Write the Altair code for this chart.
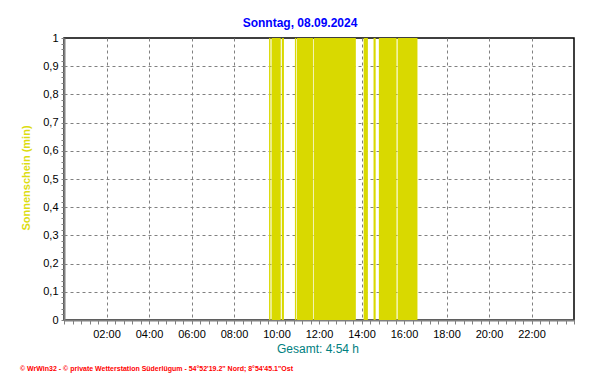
import altair as alt
import pandas as pd

# Sunshine intervals (minutes after midnight), value = 1 min sunshine per minute
start_min = [579, 586, 615, 652, 657, 705, 846, 874, 889, 942]
end_min = [583, 612, 621, 655, 703, 824, 858, 880, 939, 998]
sun = [1, 1, 1, 1, 1, 1, 1, 1, 1, 1]

title_text = "Sonntag, 08.09.2024"
y_title = "Sonnenschein  (min)"
total_text = "Gesamt: 4:54 h"
footer_text = "\u00a9 WrWin32  -  \u00a9 private Wetterstation S\u00fcderl\u00fcgum  -  54\u00b052'19.2\" Nord; 8\u00b054'45.1\"Ost"

df = pd.DataFrame({"start": start_min, "end": end_min, "sun": sun})

W, H = 510, 282
FONT = "Liberation Sans"

x_vals = list(range(0, 1441, 24))
y_vals = [round(i * 0.02, 2) for i in range(51)]

bars = alt.Chart(df).mark_rect(color="#d9d900").encode(
    x=alt.X(
        "start:Q",
        scale=alt.Scale(domain=[0, 1440], nice=False, zero=False),
        axis=alt.Axis(
            values=x_vals,
            title=None,
            labelExpr="datum.value % 120 === 0 && datum.value > 0 && datum.value < 1440 ? (datum.value < 600 ? '0' : '') + (datum.value/60) + ':00' : ''",
            labelOverlap=False,
            labelFlush=False,
            labelFont=FONT,
            labelFontSize=11,
            labelColor="#000000",
            labelPadding=4,
            tickColor="#808080",
            tickSize=4,
            domainColor="#808080",
            domainWidth=2,
            grid=True,
            gridColor="#808080",
            gridDash=[3, 3],
            gridOpacity={"condition": {"test": "datum.value % 120 === 0 && datum.value > 0 && datum.value < 1440", "value": 1}, "value": 0},
            zindex=0,
        ),
    ),
    x2="end:Q",
    y=alt.Y(
        "sun:Q",
        scale=alt.Scale(domain=[0, 1], nice=False),
        axis=alt.Axis(
            values=y_vals,
            title=None,
            labelExpr="round(datum.value*50) % 5 === 0 ? (datum.value < 0.001 ? '0' : (datum.value > 0.999 ? '1' : replace(format(datum.value, '.1f'), '.', ','))) : ''",
            labelOverlap=False,
            labelFlush=False,
            labelFont=FONT,
            labelFontSize=11,
            labelColor="#000000",
            labelPadding=3,
            tickColor="#808080",
            tickSize=3,
            domainColor="#808080",
            domainWidth=2,
            grid=True,
            gridColor="#808080",
            gridDash=[3, 3],
            gridOpacity={"condition": {"test": "round(datum.value*50) % 5 === 0 && datum.value > 0.001 && datum.value < 0.999", "value": 1}, "value": 0},
            zindex=0,
        ),
    ),
    y2=alt.datum(0),
)

def label(text, x, y, **kw):
    return alt.Chart(pd.DataFrame({"t": [text]})).mark_text(font=FONT, **kw).encode(
        x=alt.value(x), y=alt.value(y), text="t:N"
    )

title = label(title_text, 236, -15, fontSize=12, fontWeight="bold", color="#0000ff", align="center", baseline="middle")
ytitle = label(y_title, -37, 140, fontSize=11, fontWeight="bold", color="#dcdc10", align="center", baseline="middle", angle=270)
total = label(total_text, 254, 29 + H, fontSize=12, color="#008080", align="center", baseline="middle")
footer = label(footer_text, -44, 49 + H, fontSize=7, fontWeight="bold", color="#ff0000", align="left", baseline="middle")

chart = alt.layer(bars, title, ytitle, total, footer).properties(
    width=W,
    height=H,
    autosize=alt.AutoSizeParams(type="none"),
    padding={"left": 56, "top": 30, "right": 10, "bottom": 56},
    background="white",
).configure_view(stroke="#000000", strokeWidth=1.5)

chart.save("out.html", embed_options={"renderer": "svg", "actions": False})
